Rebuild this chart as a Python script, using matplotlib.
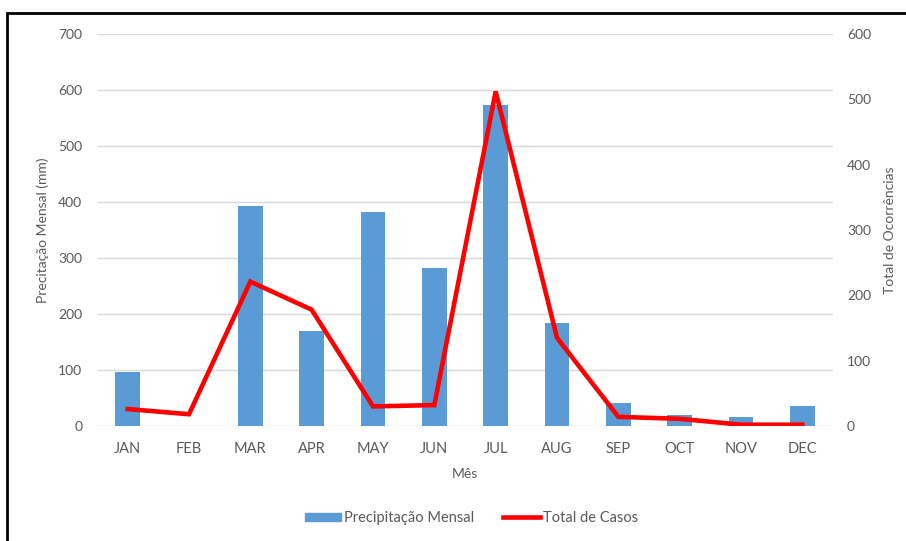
import matplotlib.pyplot as plt
from matplotlib.patches import Rectangle
from matplotlib.lines import Line2D


MONTHS = ["JAN", "FEB", "MAR", "APR", "MAY", "JUN", "JUL", "AUG", "SEP", "OCT", "NOV", "DEC"]
PRECIPITATION_MM = [96, 0, 393, 170, 383, 282, 574, 184, 41, 20, 16, 36]
TOTAL_CASES = [26, 18, 221, 178, 30, 32, 512, 135, 14, 11, 2, 2]
LEFT_TICKS = [0, 100, 200, 300, 400, 500, 600, 700]
RIGHT_TICKS = [0, 100, 200, 300, 400, 500, 600]

TEXT_COLOR = "#595959"
GRID_COLOR = "#d9d9d9"
BAR_COLOR = "#5b9bd5"
LINE_COLOR = "#ff0000"

plt.rcParams["font.family"] = ["Lato", "DejaVu Sans"]


def main() -> None:
	fig = plt.figure(figsize=(9.06, 5.41), dpi=100)
	ax = fig.add_axes([97 / 906, 1 - 426 / 541, 736 / 906, 392 / 541])
	ax2 = ax.twinx()

	x_positions = list(range(len(MONTHS)))
	ax.bar(x_positions, PRECIPITATION_MM, width=0.4, color=BAR_COLOR, zorder=2)
	ax2.plot(x_positions, TOTAL_CASES, color=LINE_COLOR, linewidth=3.3,
		solid_joinstyle="miter", zorder=3)

	ax.set_xlim(-0.5, len(MONTHS) - 0.5)
	ax.set_ylim(0, 700)
	ax2.set_ylim(0, 600)
	ax.set_yticks(LEFT_TICKS)
	ax2.set_yticks(RIGHT_TICKS)
	ax.set_xticks(x_positions)
	ax.set_xticklabels(MONTHS)
	ax.grid(True, axis="y", color=GRID_COLOR, linewidth=1.0, zorder=0)
	ax.set_axisbelow(True)

	for axis in (ax, ax2):
		for spine in axis.spines.values():
			spine.set_visible(False)
		axis.tick_params(length=0, labelsize=10, colors=TEXT_COLOR)
	ax.tick_params(axis="y", pad=10.5)
	ax2.tick_params(axis="y", pad=10)
	ax.tick_params(axis="x", pad=11.5, labelsize=10.5)

	ax.set_ylabel("Precitação Mensal (mm)", fontsize=10, color=TEXT_COLOR, labelpad=7)
	ax2.set_ylabel("Total de Ocorrências", fontsize=10, color=TEXT_COLOR, labelpad=9)
	ax.set_xlabel("Mês", fontsize=10, color=TEXT_COLOR, labelpad=9)

	handles = [
		Rectangle((0, 0), 1, 1, color=BAR_COLOR),
		Line2D([0], [0], color=LINE_COLOR, linewidth=3.3),
	]
	fig.legend(handles, ["Precipitação Mensal", "Total de Casos"], loc="center",
		bbox_to_anchor=(0.52, 1 - 518 / 541), ncol=2, frameon=False, fontsize=10.5,
		labelcolor=TEXT_COLOR, handlelength=2.5, handleheight=0.5,
		handletextpad=0.2, columnspacing=2.0)

	# moldura da figura
	fig.add_artist(Rectangle((7 / 906, -0.01), 1.0, 1 - 13 / 541 + 0.01,
		transform=fig.transFigure, fill=False, edgecolor="black", linewidth=2.0))

	fig.savefig("out.png", dpi=100)
	plt.close(fig)


if __name__ == "__main__":
	main()
